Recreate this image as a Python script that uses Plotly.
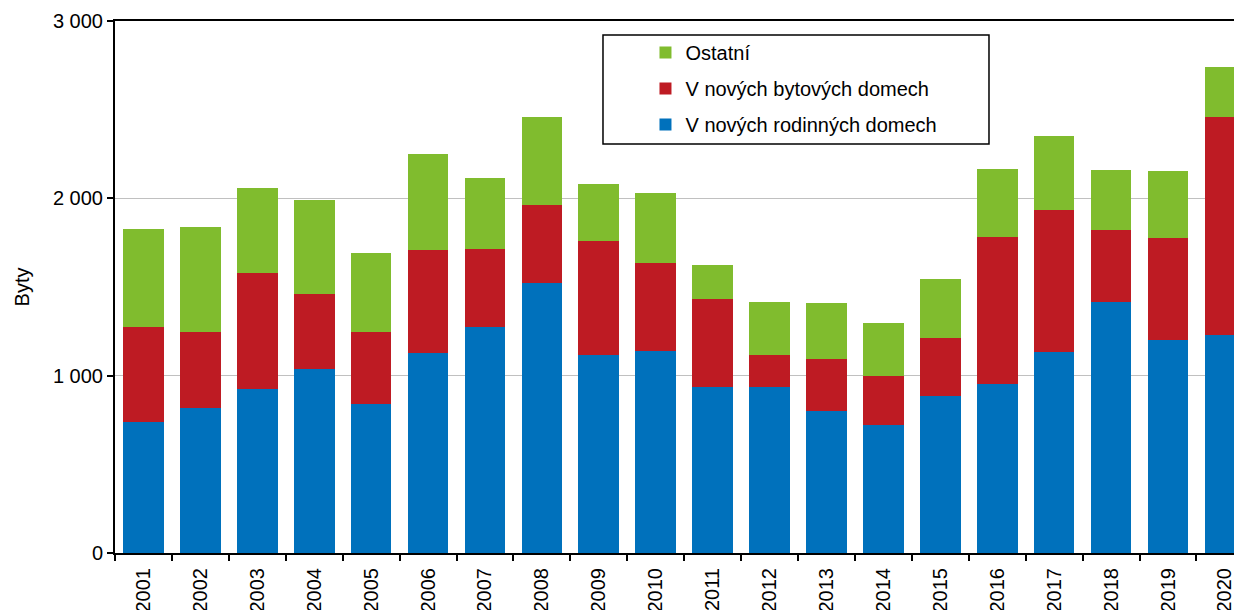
import plotly.graph_objects as go

years = [str(y) for y in range(2001, 2021)]
rodinne = [738, 817, 926, 1037, 840, 1128, 1274, 1525, 1116, 1140,
           936, 936, 800, 722, 887, 953, 1135, 1415, 1201, 1231]
bytove = [539, 429, 654, 426, 404, 582, 441, 440, 646, 498,
          499, 180, 292, 274, 323, 830, 800, 404, 575, 1228]
ostatni = [551, 593, 477, 530, 450, 541, 399, 493, 320, 391,
           190, 301, 318, 302, 335, 383, 419, 342, 377, 281]

series_names = ["V nových rodinných domech", "V nových bytových domech", "Ostatní"]
series_colors = ["#0071BC", "#BE1B23", "#80BC2E"]
legend_ranks = [3, 2, 1]
y_ticks = [0, 1000, 2000, 3000]
y_tick_labels = ["0", "1 000", "2 000", "3 000"]

FONT = "Liberation Sans, Arial, sans-serif"

fig = go.Figure()
for name, vals, col, rk in zip(series_names, [rodinne, bytove, ostatni],
                               series_colors, legend_ranks):
    fig.add_trace(go.Bar(x=years, y=vals, name=name, marker_color=col,
                         marker_line_width=0, legendgroup=name, legendrank=rk))

fig.update_layout(
    width=1234, height=602,
    barmode="stack", bargap=0.286,
    margin=dict(l=107, r=0, t=13, b=57),
    plot_bgcolor="white", paper_bgcolor="white",
    font=dict(family=FONT, size=20, color="#000000"),
    showlegend=True,
    legend=dict(x=0.4707, xanchor="left", y=0.9775, yanchor="top",
                traceorder="grouped", tracegroupgap=7,
                bgcolor="rgba(0,0,0,0)", borderwidth=0,
                font=dict(family=FONT, size=20, color="#000000")),
    xaxis=dict(type="category", range=[-0.5, 19.3], tickangle=-90,
               automargin=False,
               showline=True, linecolor="black", linewidth=2, mirror=True,
               ticks="outside", tickson="boundaries", ticklen=6,
               tickwidth=1.5, tickcolor="black", showgrid=False,
               ticklabelstandoff=5,
               tickfont=dict(family=FONT, size=20, color="#000000")),
    yaxis=dict(range=[0, 3000], tickvals=y_ticks, ticktext=y_tick_labels,
               automargin=False,
               showline=True, linecolor="black", linewidth=2,
               ticks="outside", ticklen=6, tickwidth=1.5, tickcolor="black",
               showgrid=True, gridcolor="#C0C0C0", gridwidth=1,
               zeroline=False,
               tickfont=dict(family=FONT, size=20, color="#000000"),
               title=dict(text="Byty", standoff=18,
                          font=dict(family=FONT, size=20, color="#000000"))),
    shapes=[dict(type="rect", xref="paper", yref="paper",
                 x0=0.433, x1=0.7755, y0=0.7688, y1=0.9737,
                 line=dict(color="black", width=1.5), fillcolor="rgba(0,0,0,0)")],
)

fig.write_html("out.html")
